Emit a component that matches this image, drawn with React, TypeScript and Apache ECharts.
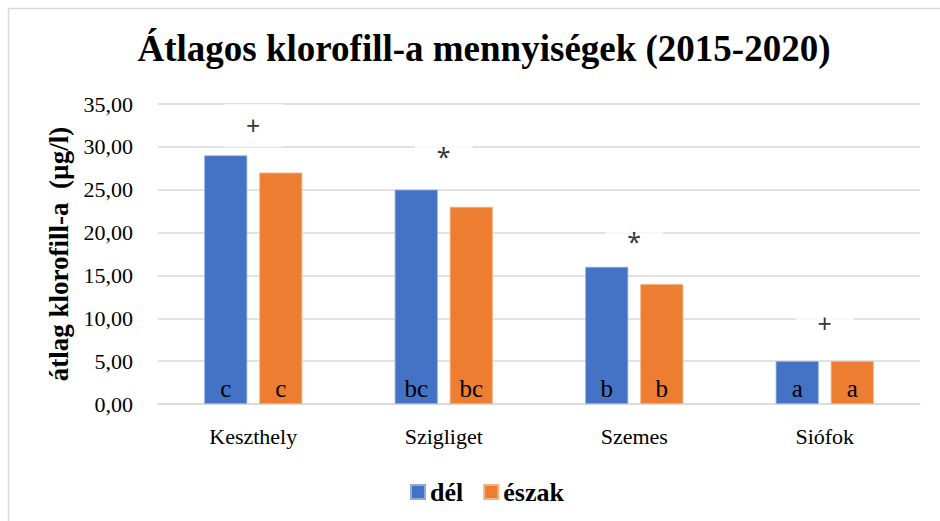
import React, { useEffect, useRef } from "react";
import * as echarts from "echarts";

const categories = ["Keszthely", "Szigliget", "Szemes", "Siófok"];
const delValues = [29, 25, 16, 5];
const eszakValues = [27, 23, 14, 5];
const delLetters = ["c", "bc", "b", "a"];
const eszakLetters = ["c", "bc", "b", "a"];
const markSymbols = ["+", "*", "*", "+"];
const markLevels = [32.5, 28.9, 19, 9.5];
const yTicks = { min: 0, max: 35, interval: 5 };

const SERIF = "'Liberation Serif', 'Times New Roman', serif";

export default function App() {
  const ref = useRef<HTMLDivElement>(null);
  useEffect(() => {
    document.body.style.margin = "0";
    const chart = echarts.init(ref.current!, null, { renderer: "svg" });
    chart.setOption({
      animation: false,
      backgroundColor: "#fff",
      title: {
        text: "Átlagos klorofill-a mennyiségek (2015-2020)",
        left: 479,
        textAlign: "center",
        top: 25,
        textStyle: { fontFamily: SERIF, fontWeight: "bold", fontSize: 37, color: "#000" },
      },
      graphic: [
        {
          type: "rect",
          shape: { x: 8.5, y: 8.5, width: 1000, height: 1000 },
          style: { fill: "none", stroke: "#D9D9D9", lineWidth: 1.5 },
          silent: true,
        },
      ],
      legend: {
        data: ["dél", "észak"],
        left: 405,
        top: 474,
        itemWidth: 14,
        itemHeight: 14,
        itemGap: 20,
        icon: "rect",
        textStyle: { fontFamily: SERIF, fontWeight: "bold", fontSize: 26, color: "#000" },
      },
      grid: { left: 158, right: 20, top: 104, bottom: 117, containLabel: false },
      xAxis: {
        type: "category",
        data: categories,
        axisLine: { lineStyle: { color: "#D9D9D9", width: 1.5 } },
        axisTick: { show: false },
        axisLabel: { fontFamily: SERIF, fontSize: 22, color: "#000", margin: 21 },
      },
      yAxis: {
        type: "value",
        min: yTicks.min,
        max: yTicks.max,
        interval: yTicks.interval,
        name: "átlag klorofill-a  (µg/l)",
        nameLocation: "middle",
        nameGap: 86,
        nameTextStyle: { fontFamily: SERIF, fontWeight: "bold", fontSize: 27, color: "#000" },
        axisLine: { show: false },
        axisTick: { show: false },
        splitLine: { lineStyle: { color: "#D9D9D9", width: 1.5 } },
        axisLabel: {
          fontFamily: SERIF,
          fontSize: 22,
          color: "#000",
          margin: 25,
          formatter: (v: number) => v.toFixed(2).replace(".", ","),
        },
      },
      series: [
        {
          name: "dél",
          type: "bar",
          data: delValues,
          barWidth: 43,
          barGap: "28%",
          itemStyle: { color: "#4472C4", borderColor: "#8FAADC", borderWidth: 0.8 },
          label: {
            show: true,
            position: "insideBottom",
            distance: 3,
            fontFamily: SERIF,
            fontSize: 25,
            color: "#000",
            formatter: (p: any) => delLetters[p.dataIndex],
          },
        },
        {
          name: "észak",
          type: "bar",
          data: eszakValues,
          barWidth: 43,
          barGap: "28%",
          itemStyle: { color: "#ED7D31", borderColor: "#F4B183", borderWidth: 0.8 },
          label: {
            show: true,
            position: "insideBottom",
            distance: 3,
            fontFamily: SERIF,
            fontSize: 25,
            color: "#000",
            formatter: (p: any) => eszakLetters[p.dataIndex],
          },
        },
        {
          name: "marks",
          type: "scatter",
          data: markLevels,
          symbolSize: 0,
          silent: true,
          z: 5,
          label: {
            show: true,
            position: "inside",
            fontFamily: "'Noto Sans', sans-serif",
            fontSize: 25,
            color: "#000",
            backgroundColor: "#fff",
            padding: [9, 22],
            formatter: (p: any) => markSymbols[p.dataIndex],
          },
        },
      ],
    });
    return () => chart.dispose();
  }, []);
  return <div ref={ref} style={{ width: 940, height: 521 }} />;
}
